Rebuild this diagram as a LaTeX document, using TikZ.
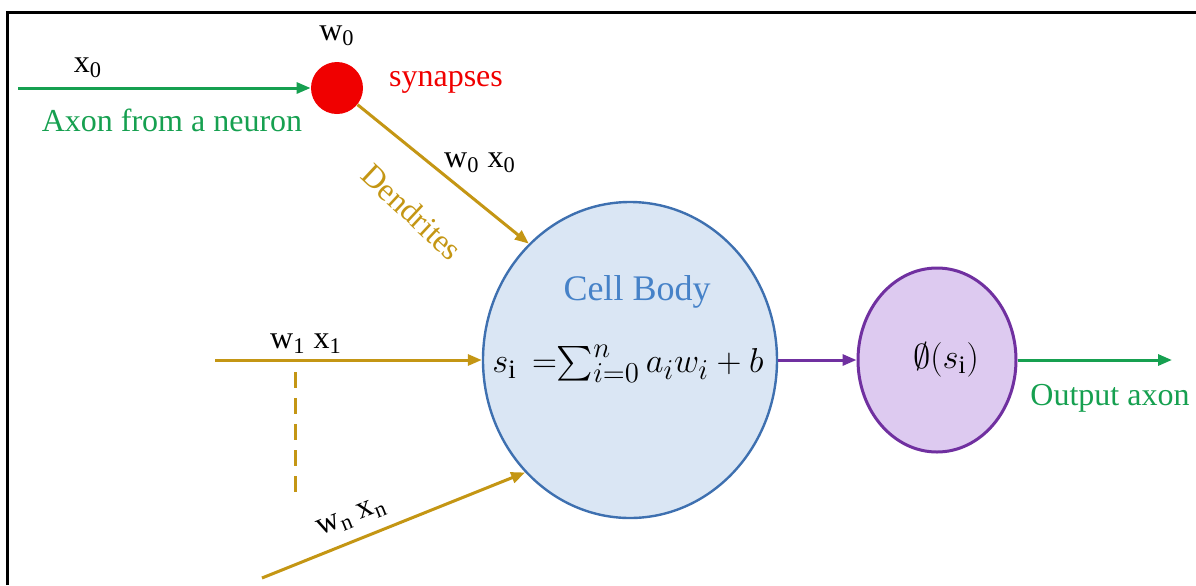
\documentclass[tikz,border=0pt]{standalone}
\usepackage{amsmath}
\usepackage{fontspec}
\setmainfont{Liberation Serif}
\usepackage{tikz}
\usetikzlibrary{arrows.meta, positioning, calc, shapes.geometric}

\definecolor{axongreen}{RGB}{22,160,80}
\definecolor{synred}{RGB}{240,0,0}
\definecolor{dendgold}{RGB}{196,150,20}
\definecolor{bodyblue}{RGB}{62,112,176}
\definecolor{bodyfill}{RGB}{218,230,244}
\definecolor{celltext}{RGB}{70,130,200}
\definecolor{actpurple}{RGB}{112,48,160}
\definecolor{actfill}{RGB}{221,202,240}

\tikzset{
  lbl/.style={font=\fontsize{16}{18}\selectfont, inner sep=1pt},
  wire/.style={line width=1.5pt, -{Triangle[length=7pt,width=5.5pt]}},
}

\begin{document}
\begin{tikzpicture}[x=0.5pt, y=-0.5pt]
  \useasboundingbox (0,0) rectangle (1196,585);

  % Frame (cut off at right and bottom)
  \draw[line width=1.5pt] (7,585) -- (7,12) -- (1196,12);

  % Synapse, cell body and activation
  \node[circle, fill=synred, minimum size=26pt, inner sep=0pt] (syn) at (337,88) {};
  \node[ellipse, draw=bodyblue, line width=1.2pt, fill=bodyfill,
        minimum width=147pt, minimum height=158pt, inner sep=0pt] (body) at (630,360) {};
  \node[ellipse, draw=actpurple, line width=1.5pt, fill=actfill,
        minimum width=79pt, minimum height=92pt, inner sep=0pt] (act) at (937,360) {};

  % Free ends
  \coordinate (axin) at (18,88);
  \coordinate (in1) at (215,360);
  \coordinate (inn) at (262,578);
  \coordinate (out) at (1172,360);
  \coordinate (d1) at (295,372);
  \coordinate (d2) at (295,500);

  % Connectors
  \draw[wire, axongreen] (axin) -- (syn);
  \draw[wire, dendgold] (syn) -- (body.131);
  \draw[wire, dendgold] (in1) -- (body.west);
  \draw[wire, dendgold] (inn) -- (body.227);
  \draw[line width=1.5pt, dendgold, dashed, dash pattern=on 8pt off 5pt] (d1) -- (d2);
  \draw[wire, actpurple] (body.east) -- (act.west);
  \draw[wire, axongreen] (act.east) -- (out);

  % Labels
  \node[lbl] (x0) at (88,68) {x\textsubscript{0}};
  \node[lbl] (w0) at (337,36) {w\textsubscript{0}};
  \node[lbl, synred] (synlbl) at (446,82) {synapses};
  \node[lbl, axongreen] (axlbl) at (172,120) {Axon from a neuron};
  \node[lbl] (w0x0) at (480,163) {w\textsubscript{0} x\textsubscript{0}};
  \node[lbl, dendgold, rotate=-43] (dend) at (412,212) {Dendrites};
  \node[lbl] (w1x1) at (306,344) {w\textsubscript{1} x\textsubscript{1}};
  \node[lbl, rotate=22] (wnxn) at (352,518) {w\textsubscript{n} x\textsubscript{n}};
  \node[font=\fontsize{18}{20}\selectfont, celltext] (celllbl) at (637,292) {Cell Body};
  \node[font=\fontsize{19}{21}\selectfont] (sum) at (628,364)
    {$s_{\mathrm{i}}\ \,{=}\!\sum_{i=0}^{n} a_i w_i + b$};
  \node[font=\fontsize{18}{20}\selectfont] (phi) at (946,360) {$\emptyset(s_{\mathrm{i}})$};
  \node[lbl, axongreen] (outlbl) at (1110,398) {Output axon};
\end{tikzpicture}
\end{document}
